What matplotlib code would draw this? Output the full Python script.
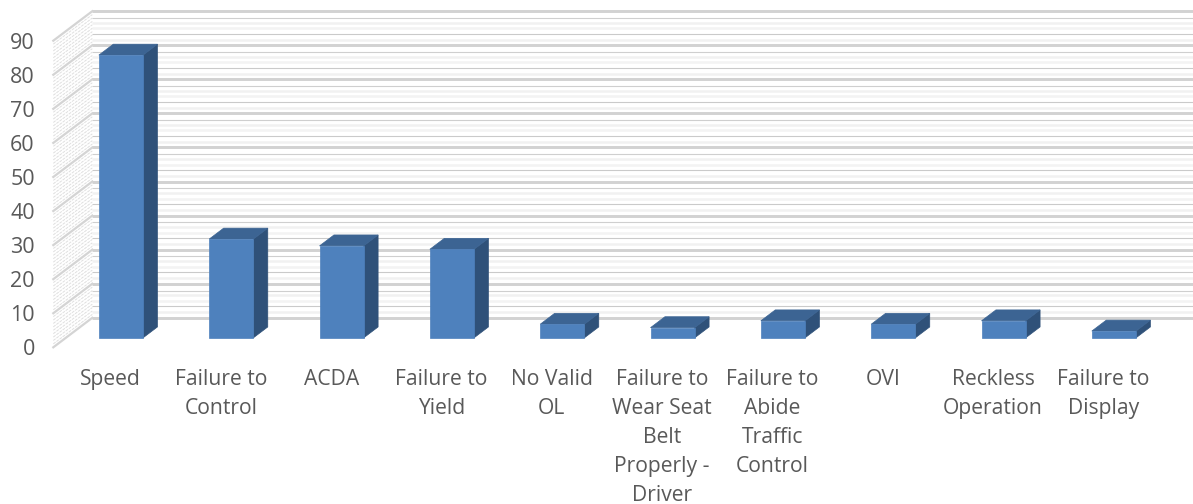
#!/usr/bin/env python3
"""Fake 3D column chart: depth is a pixel offset on top of the value axes."""
import matplotlib
matplotlib.use("Agg")
import matplotlib.pyplot as plt
from matplotlib.patches import Polygon
from matplotlib.transforms import Affine2D

plt.rcParams["font.family"] = ["Open Sans", "DejaVu Sans"]

CATEGORIES = ["Speed", "Failure to\nControl", "ACDA", "Failure to\nYield", "No Valid\nOL",
              "Failure to\nWear Seat\nBelt\nProperly -\nDriver",
              "Failure to\nAbide\nTraffic\nControl", "OVI", "Reckless\nOperation",
              "Failure to\nDisplay"]
VALUES = [83, 29, 27, 26, 4, 3, 5, 4, 5, 2]
YTICKS = list(range(0, 100, 10))
YMINOR = list(range(0, 91))

# the back wall shows a repeating banding inside each 10-unit step
BAND_OFFSETS = [1.6, 3.4, 5.0, 6.6, 8.0]
BAND_COLORS = ["#f1f1f1", "#cacaca", "#f3f3f3", "#f1f1f1", "#cfcfcf"]
BAND_WIDTHS = [1.8, 0.8, 1.8, 1.8, 0.8]

W, H = 1193, 504
DEPTH_X, DEPTH_Y = 39.0, 29.5   # px from front of side wall to back wall
BAR_FRONT, BAR_BACK = 0.32, 0.69  # bar position along the depth
BAR_W = 0.2

FRONT = "#4e81bd"
TOP = "#3c6493"
SIDE = "#2f5179"
TEXT = "#595959"


def main():
    fig = plt.figure(figsize=(W / 100, H / 100), dpi=100)
    x0, x1 = 53.3, 1156.6
    y0, y1 = 347.3, 40.7
    ax = fig.add_axes([x0 / W, 1 - y0 / H, (x1 - x0) / W, (y0 - y1) / H])
    ax.set_xlim(-0.5, 9.5)
    ax.set_ylim(0, 90)
    ax.axis("off")

    def at(f):
        return ax.transData + Affine2D().translate(f * DEPTH_X, f * DEPTH_Y)

    back = at(1)
    for v in YTICKS[:-1]:
        for off, c, lw in zip(BAND_OFFSETS, BAND_COLORS, BAND_WIDTHS):
            ax.plot([-0.5, 9.7], [v + off, v + off], color=c, lw=lw, transform=back,
                    clip_on=False, zorder=1, solid_capstyle="butt")
    for v in YMINOR:
        if v % 10:
            p0 = ax.transData.transform((-0.5, v))
            ax.plot([p0[0], p0[0] + DEPTH_X], [p0[1], p0[1] + DEPTH_Y], color="#dfdfdf", lw=0.7,
                    ls=(0, (3, 1)), transform=None, clip_on=False, zorder=1)
    for v in YTICKS:
        ax.plot([-0.5, 9.7], [v, v], color="#d2d2d2", lw=2.1, transform=back,
                clip_on=False, zorder=2, solid_capstyle="butt")
        p0 = ax.transData.transform((-0.5, v))
        ax.plot([p0[0], p0[0] + DEPTH_X], [p0[1], p0[1] + DEPTH_Y], color="#d4d4d4", lw=1.6,
                transform=None, clip_on=False, zorder=2)
        ax.text(-0.5, v, str(v), transform=ax.transData + Affine2D().translate(-18.5, -2.5),
                ha="right", va="center", fontsize=15.5, color=TEXT)

    for i, v in enumerate(VALUES):
        l, r = i - BAR_W, i + BAR_W
        t_f = at(BAR_FRONT)
        dx = (BAR_BACK - BAR_FRONT) * DEPTH_X
        dy = (BAR_BACK - BAR_FRONT) * DEPTH_Y
        fl, fb = t_f.transform((l, 0))
        fr, ft = t_f.transform((r, v))
        ax.add_patch(Polygon([(fr, fb), (fr + dx, fb + dy), (fr + dx, ft + dy), (fr, ft)],
                             color=SIDE, lw=0.5, transform=None, zorder=3))
        ax.add_patch(Polygon([(fl, ft), (fl + dx, ft + dy), (fr + dx, ft + dy), (fr, ft)],
                             color=TOP, lw=0.5, transform=None, zorder=3))
        ax.add_patch(Polygon([(fl, fb), (fr, fb), (fr, ft), (fl, ft)],
                             color=FRONT, lw=0.5, transform=None, zorder=4))
        ax.text(i, 0, CATEGORIES[i], transform=ax.transData + Affine2D().translate(2, -21.5),
                ha="center", va="top", fontsize=15.2, color=TEXT, linespacing=1.5)

    fig.savefig("out.png", dpi=100)
    print("wrote out.png")


if __name__ == "__main__":
    main()
